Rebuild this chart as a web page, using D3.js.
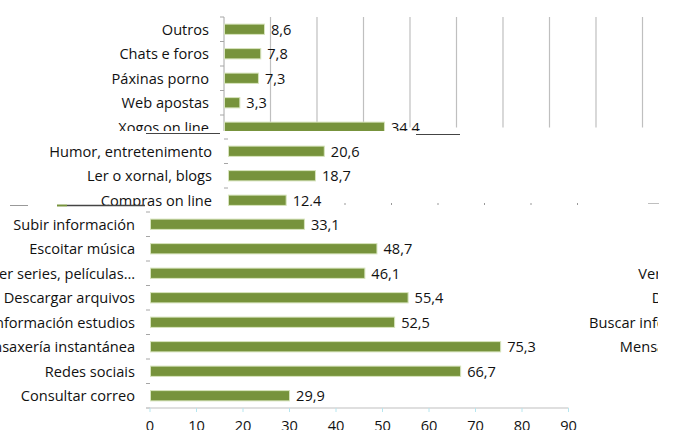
<!DOCTYPE html>
<html><head><meta charset="utf-8">
<script src="https://cdn.jsdelivr.net/npm/d3@7"></script>
<style>
html,body{margin:0;padding:0;background:#fff;}
svg{display:block;}
text{font-family:"Open Sans",sans-serif;fill:#111;}
</style></head>
<body>
<svg id="c" width="673" height="430"></svg>
<script>
// ---- data ----
const categoriesA = ["Outros", "Chats e foros", "Páxinas porno", "Web apostas", "Xogos on line"];
const valuesA = [8.6, 7.8, 7.3, 3.3, 34.4];
const categoriesB = ["Humor, entretenimento", "Ler o xornal, blogs", "Compras on line"];
const valuesB = [20.6, 18.7, 12.4];
const categoriesC = ["Subir información", "Escoitar música", "Ver series, películas…", "Descargar arquivos",
  "Buscar información estudios", "Mensaxería instantánea", "Redes sociais", "Consultar correo"];
const valuesC = [33.1, 48.7, 46.1, 55.4, 52.5, 75.3, 66.7, 29.9];
const tickValues = [0, 10, 20, 30, 40, 50, 60, 70, 80, 90];

const svg = d3.select("#c");
const defs = svg.append("defs");
const fmt = v => String(v).replace(".", ",");
const FS = 14.6;
const barColor = "#77933c", barStroke = "#d7e4bd";

function clip(id, x, y, w, h) {
  defs.append("clipPath").attr("id", id).append("rect").attr("x", x).attr("y", y).attr("width", w).attr("height", h);
  return "url(#" + id + ")";
}

// one horizontal bar panel
function panel(opts) {
  const {cats, vals, x0, yTop, step, clipId, clipBox, grid, axisLine, labelGap} = opts;
  const x = d3.scaleLinear().domain([0, 90]).range([x0, x0 + 418.5]);
  const y = d3.scaleBand().domain(cats).range([yTop, yTop + step * cats.length]).paddingInner(0.58).paddingOuter(0.29);
  const g = svg.append("g").attr("clip-path", clip(clipId, ...clipBox));
  if (grid) {
    g.append("g").selectAll("line").data(tickValues.slice(1)).join("line")
      .attr("x1", d => x(d)).attr("x2", d => x(d))
      .attr("y1", yTop).attr("y2", yTop + step * cats.length - 12)
      .attr("stroke", "#bfbfbf").attr("stroke-width", 1.2);
  }
  if (axisLine) {
    g.append("line").attr("x1", x0).attr("x2", x0).attr("y1", yTop).attr("y2", yTop + step * cats.length)
      .attr("stroke", "#a6a6a6");
  }
  g.append("g").selectAll("line").data(d3.range(cats.length + 1)).join("line")
    .attr("x1", x0 - 4).attr("x2", x0).attr("y1", i => yTop + i * step).attr("y2", i => yTop + i * step)
    .attr("stroke", "#a6a6a6");
  g.append("g").selectAll("rect").data(cats).join("rect")
    .attr("x", x(0) + 0.5).attr("y", d => y(d))
    .attr("width", (d, i) => x(vals[i]) - x(0)).attr("height", y.bandwidth())
    .attr("fill", barColor).attr("stroke", barStroke).attr("stroke-width", 1);
  g.append("g").selectAll("text.lab").data(cats).join("text").attr("class", "lab")
    .attr("x", x0 - labelGap).attr("y", d => y(d) + y.bandwidth() / 2).attr("dy", "0.36em")
    .attr("text-anchor", "end").attr("font-size", FS).text(d => d);
  g.append("g").selectAll("text.val").data(cats).join("text").attr("class", "val")
    .attr("x", (d, i) => x(vals[i]) + 7).attr("y", d => y(d) + y.bandwidth() / 2).attr("dy", "0.36em")
    .attr("font-size", FS).text((d, i) => fmt(vals[i]));
  return {x, y, g};
}

// Panel A (top)
panel({cats: categoriesA, vals: valuesA, x0: 224, yTop: 17, step: 24.5, clipId: "ca",
  clipBox: [0, 0, 673, 131], grid: true, axisLine: true, labelGap: 15});

// Panel B (middle)
panel({cats: categoriesB, vals: valuesB, x0: 228, yTop: 139, step: 24.5, clipId: "cb",
  clipBox: [0, 133, 673, 73], grid: false, axisLine: false, labelGap: 16});

// Panel C (bottom)
const pc = panel({cats: categoriesC, vals: valuesC, x0: 150, yTop: 212, step: 24.5, clipId: "cc",
  clipBox: [0, 208, 673, 222], grid: false, axisLine: false, labelGap: 15});

// x axis for panel C
const xa = svg.append("g").attr("transform", "translate(0,408)");
xa.append("line").attr("x1", pc.x(0)).attr("x2", pc.x(90)).attr("stroke", "#bfbfbf").attr("stroke-width", 1.2);
xa.selectAll("line.t").data(tickValues).join("line").attr("class", "t")
  .attr("x1", d => pc.x(d)).attr("x2", d => pc.x(d)).attr("y1", 0).attr("y2", 4)
  .attr("stroke", "#b7e6ef");
xa.selectAll("text").data(tickValues).join("text")
  .attr("x", d => pc.x(d)).attr("y", 23).attr("text-anchor", "middle").attr("font-size", FS).text(d => d);

// second (shifted) copy of panel C labels, clipped at the right edge
const gR = svg.append("g").attr("clip-path", clip("cr", 585, 258, 73, 100));
gR.selectAll("text").data(categoriesC).join("text")
  .attr("x", 150 - 15 + 648).attr("y", d => pc.y(d) + pc.y.bandwidth() / 2).attr("dy", "0.36em")
  .attr("text-anchor", "end").attr("font-size", FS).text(d => d);

// faint gridline fragments between panels
const xD = d3.scaleLinear().domain([0, 90]).range([252, 670.5]);
svg.append("g").attr("clip-path", clip("cd", 330, 203, 260, 2)).selectAll("line")
  .data(tickValues).join("line")
  .attr("x1", d => xD(d)).attr("x2", d => xD(d)).attr("y1", 190).attr("y2", 210).attr("stroke", "#999");
svg.append("line").attr("x1", 648).attr("x2", 659).attr("y1", 203.5).attr("y2", 203.5).attr("stroke", "#bfbfbf");
// seam underlines
svg.append("line").attr("x1", 146).attr("x2", 220).attr("y1", 133.5).attr("y2", 133.5).attr("stroke", "#444");
svg.append("line").attr("x1", 416).attr("x2", 460).attr("y1", 134.5).attr("y2", 134.5).attr("stroke", "#444");
svg.append("line").attr("x1", 10).attr("x2", 28).attr("y1", 205.5).attr("y2", 205.5).attr("stroke", "#999");
svg.append("line").attr("x1", 57).attr("x2", 67).attr("y1", 205.5).attr("y2", 205.5).attr("stroke", barColor).attr("stroke-width", 2);
svg.append("line").attr("x1", 67).attr("x2", 145).attr("y1", 205.5).attr("y2", 205.5).attr("stroke", "#444").attr("stroke-width", 1.5);
</script>
</body></html>
